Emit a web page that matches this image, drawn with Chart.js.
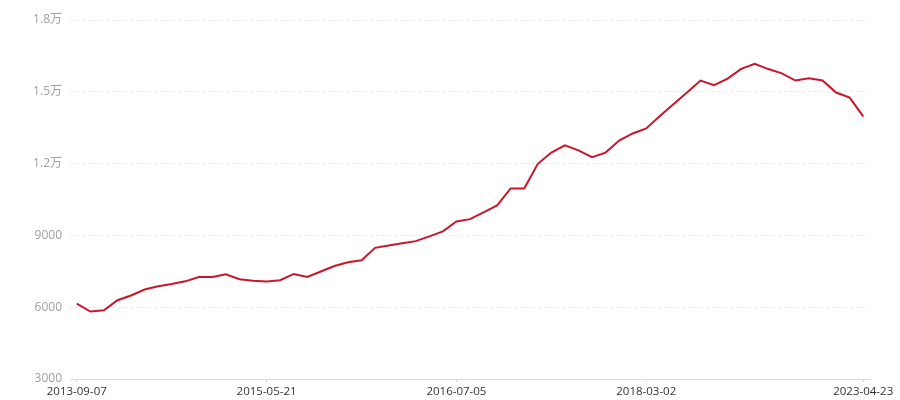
<!DOCTYPE html>
<html>
<head>
<meta charset="utf-8">
<script src="https://cdn.jsdelivr.net/npm/chart.js@4"></script>
<style>
  html, body { margin: 0; padding: 0; background: #fff; }
  #wrap { width: 900px; height: 400px; }
</style>
</head>
<body>
<div id="wrap"><canvas id="chart"></canvas></div>
<script>
// 数据
const values = [6150, 5820, 5875, 6290, 6490, 6740, 6875, 6970, 7080, 7260,
    7260, 7375, 7170, 7110, 7070, 7125, 7390, 7260, 7490, 7720,
    7875, 7960, 8480, 8580, 8670, 8760, 8960, 9170, 9580, 9680,
    9960, 10250, 10960, 10960, 11990, 12460, 12760, 12550, 12270, 12460,
    12960, 13260, 13470, 13985, 14480, 14975, 15470, 15280, 15550, 15960,
    16170, 15950, 15770, 15470, 15570, 15470, 14970, 14760, 13970];
const tickIndex = [0, 14, 28, 42, 58];
const tickDates = ['2013-09-07', '2015-05-21', '2016-07-05', '2018-03-02', '2023-04-23'];
const yTicks = [3000, 6000, 9000, 12000, 15000, 18000];

// 只知道这几个日期，其余留空
const labels = values.map(function() { return ''; });
tickIndex.forEach(function(idx, i) { labels[idx] = tickDates[i]; });

function fmtY(v) {
    if (v >= 10000) return (v / 10000).toFixed(1) + '万';
    return String(v);
}

const font = "'Open Sans', 'Noto Sans CJK SC', sans-serif";

new Chart(document.getElementById('chart'), {
    type: 'line',
    data: {
        labels: labels,
        datasets: [{
            data: values,
            borderColor: '#c8162b',
            borderWidth: 2,
            pointRadius: 0,
            tension: 0,
            fill: false
        }]
    },
    options: {
        responsive: true,
        maintainAspectRatio: false,
        animation: false,
        layout: { padding: { top: 20, right: 30, left: 0, bottom: 0 } },
        plugins: { legend: { display: false }, tooltip: { enabled: false } },
        scales: {
            x: {
                type: 'category',
                offset: true,
                afterBuildTicks: function(axis) {
                    axis.ticks = axis.ticks.filter(function(t) { return tickIndex.indexOf(t.value) >= 0; });
                },
                afterFit: function(axis) { axis.height = 21; },
                border: { display: true, color: '#dcdcdc', width: 1 },
                grid: {
                    drawOnChartArea: false,
                    drawTicks: true,
                    tickLength: 3,
                    color: '#cfcfcf',
                    offset: false
                },
                ticks: {
                    autoSkip: false,
                    maxRotation: 0,
                    padding: 3,
                    color: '#333',
                    font: { family: font, size: 11.5 }
                }
            },
            y: {
                min: 3000,
                max: 18000,
                afterBuildTicks: function(axis) {
                    axis.ticks = yTicks.map(function(v) { return { value: v }; });
                },
                afterFit: function(axis) { axis.width = 70; },
                border: { display: false, dash: [3, 3] },
                grid: {
                    drawTicks: false,
                    color: function(ctx) {
                        return ctx.tick && ctx.tick.value === 3000 ? 'rgba(0,0,0,0)' : '#ebebeb';
                    },
                    lineWidth: 1
                },
                ticks: {
                    padding: 8,
                    color: '#a0a0a0',
                    font: { family: font, size: 12 },
                    callback: function(v) { return fmtY(v); }
                }
            }
        }
    }
});
</script>
</body>
</html>
